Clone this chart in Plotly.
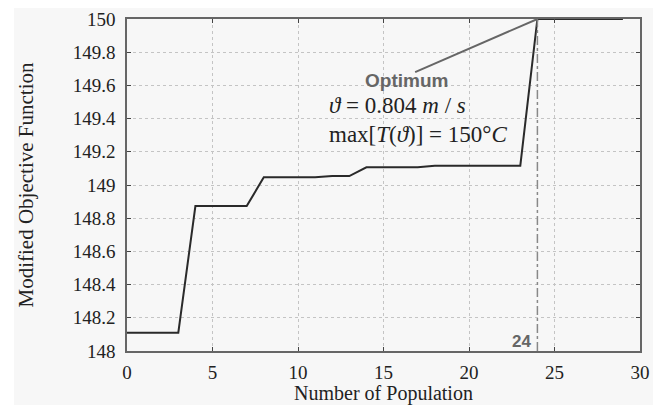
import plotly.graph_objects as go

# Data
population = list(range(0, 30))
objective = [148.11, 148.11, 148.11, 148.11,
             148.873, 148.873, 148.873, 148.873,
             149.046, 149.046, 149.046, 149.046,
             149.054, 149.054,
             149.107, 149.107, 149.107, 149.107,
             149.116, 149.116, 149.116, 149.116, 149.116, 149.116,
             150.0, 150.0, 150.0, 150.0, 150.0, 150.0]

x_ticks = [0, 5, 10, 15, 20, 25, 30]
x_tick_text = ["0", "5", "10", "15", "20", "25", "30"]
y_ticks = [148, 148.2, 148.4, 148.6, 148.8, 149, 149.2, 149.4, 149.6, 149.8, 150]
y_tick_text = ["148", "148.2", "148.4", "148.6", "148.8", "149", "149.2", "149.4", "149.6", "149.8", "150"]

optimum_x = 24
optimum_y = 150

serif = "Liberation Serif"
sans = "Liberation Sans"
tick_font = dict(family=serif, size=19, color="#222222")

fig = go.Figure()
fig.add_trace(go.Scatter(x=population, y=objective, mode="lines",
                         line=dict(color="#2a2a2a", width=2), showlegend=False,
                         hoverinfo="skip"))

fig.update_layout(
    width=661, height=405,
    margin=dict(l=127, r=21, t=19, b=54, autoexpand=False),
    paper_bgcolor="#f7f7f7", plot_bgcolor="#f7f7f7",
    showlegend=False,
    font=dict(family=serif, size=16, color="#222222"),
    xaxis=dict(range=[0, 30], tickmode="array", tickvals=x_ticks, ticktext=x_tick_text,
               tickfont=tick_font, automargin=False, ticklabelstandoff=3,
               title=dict(text="Number of Population",
                          font=dict(family=serif, size=20, color="#222222"), standoff=2),
               showline=True, linecolor="#666666", linewidth=1.5, mirror="ticks",
               ticks="inside", ticklen=4, tickcolor="#444444",
               showgrid=True, gridcolor="#c4c4c4", griddash="3px,3px", gridwidth=1,
               zeroline=False),
    yaxis=dict(range=[148, 150], tickmode="array", tickvals=y_ticks, ticktext=y_tick_text,
               tickfont=tick_font, automargin=False, ticklabelstandoff=6,
               title=dict(text="Modified Objective Function",
                          font=dict(family=serif, size=21, color="#222222"), standoff=33),
               showline=True, linecolor="#666666", linewidth=1.5, mirror="ticks",
               ticks="inside", ticklen=4, tickcolor="#444444",
               showgrid=True, gridcolor="#c4c4c4", griddash="3px,3px", gridwidth=1,
               zeroline=False),
)

# Vertical dash-dot line at the optimum
fig.add_shape(type="line", x0=optimum_x, x1=optimum_x, y0=148, y1=150, xref="x", yref="y",
              line=dict(color="#888888", width=1.5, dash="dashdot"))
# Pointer line from the label to the optimum
fig.add_shape(type="line", x0=16.85, y0=149.68, x1=optimum_x, y1=optimum_y, xref="x", yref="y",
              line=dict(color="#666666", width=2))

fig.add_annotation(x=16.37, y=149.63, xref="x", yref="y", text="<b>Optimum</b>", showarrow=False,
                   font=dict(family=sans, size=19, color="#666666"), xanchor="center", yanchor="middle")
fig.add_annotation(x=11.7, y=149.48, xref="x", yref="y",
                   text="<i>ϑ</i> = 0.804 <i>m</i> / <i>s</i>", showarrow=False,
                   font=dict(family=serif, size=23, color="#222222"), xanchor="left", yanchor="middle")
fig.add_annotation(x=11.7, y=149.305, xref="x", yref="y",
                   text="max[<i>T</i>(<i>ϑ</i>)] = 150°<i>C</i>", showarrow=False,
                   font=dict(family=serif, size=23, color="#222222"), xanchor="left", yanchor="middle")
fig.add_annotation(x=23.72, y=148.06, xref="x", yref="y", text="<b>24</b>", showarrow=False,
                   font=dict(family=sans, size=17, color="#666666"), xanchor="right", yanchor="middle")

# White page margins around the gray panel
fig.add_shape(type="rect", xref="paper", yref="paper",
              x0=-127 / 513, x1=1 + 21 / 513, y0=1 + 11 / 332, y1=1 + 19 / 332,
              line=dict(width=0), fillcolor="white", layer="below")
fig.add_shape(type="rect", xref="paper", yref="paper",
              x0=-127 / 513, x1=-113 / 513, y0=-54 / 332, y1=1 + 19 / 332,
              line=dict(width=0), fillcolor="white", layer="below")
fig.add_shape(type="rect", xref="paper", yref="paper",
              x0=1 + 13 / 513, x1=1 + 21 / 513, y0=-54 / 332, y1=1 + 19 / 332,
              line=dict(width=0), fillcolor="white", layer="below")

fig.write_html("out.html", config={"displayModeBar": False},
               post_script="document.body.style.margin='0';document.body.style.overflow='hidden';")
